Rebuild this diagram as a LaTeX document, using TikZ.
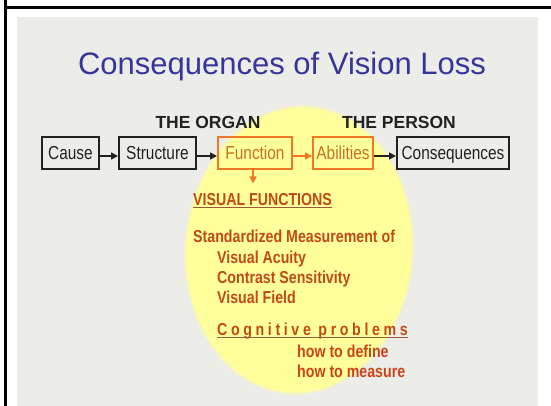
\documentclass[tikz,border=0pt]{standalone}
\usepackage{fontspec}
\setmainfont{Liberation Sans}
\newfontfamily\narrowfont[FakeStretch=0.82]{Liberation Sans}
\usetikzlibrary{arrows.meta}
\definecolor{slidebg}{HTML}{ECECE9}
\definecolor{titleblue}{HTML}{36369A}
\definecolor{ellyellow}{HTML}{FFFF9C}
\definecolor{boxorange}{HTML}{F07828}
\definecolor{orangetext}{HTML}{C8702A}
\definecolor{redbrown}{HTML}{C04A18}
\definecolor{howred}{HTML}{CC4418}
\definecolor{ulbrown}{HTML}{9A5A3A}
\definecolor{boxblack}{HTML}{222222}
\tikzset{
  blackbox/.style={draw=boxblack, line width=2pt, text=boxblack,
    minimum height=32pt, inner sep=0pt, text height=13.5pt, text depth=0pt,
    font=\narrowfont\fontsize{18.8}{20}\selectfont},
  orangebox/.style={blackbox, draw=boxorange, text=orangetext},
  headtext/.style={font=\bfseries\fontsize{17.5}{20}\selectfont, text=boxblack, inner sep=0pt, anchor=base},
  bodytext/.style={font=\narrowfont\bfseries\fontsize{17.3}{20}\selectfont, text=redbrown, inner sep=0pt, anchor=base west},
  blackarrow/.style={draw=boxblack, line width=1.6pt, -{Triangle[length=7pt,width=7pt]}},
  orangearrow/.style={draw=boxorange, line width=1.6pt, -{Triangle[length=7pt,width=7pt]}},
  ulline/.style={draw=ulbrown, line width=1pt},
}
\begin{document}
\begin{tikzpicture}[x=1pt,y=-1pt]
\useasboundingbox (0,0) rectangle (551,406);
\fill[white] (0,0) rectangle (551,406);
% slide background
\fill[slidebg] (17,17) rectangle (538,406);
% frame lines
\draw[black, line width=2.7pt] (5.3,0) -- (5.3,406);
\draw[black, line width=2.7pt] (4,7.3) -- (551,7.3);
% yellow ellipse with soft edge
\begin{scope}[shift={(299,250)}, rotate=-4]
\fill[ellyellow, opacity=0.35] (0,0) ellipse [x radius=115, y radius=145];
\fill[ellyellow, opacity=0.6] (0,0) ellipse [x radius=113.5, y radius=143.5];
\fill[ellyellow] (0,0) ellipse [x radius=112, y radius=142];
\end{scope}
% title
\node[font=\fontsize{31}{34}\selectfont, text=titleblue, inner sep=0pt, anchor=base] (title) at (282,75) {Consequences of Vision Loss};
% headings
\node[headtext] (organ) at (208,129) {THE ORGAN};
\node[headtext] (person) at (399,129) {THE PERSON};
% chain boxes
\node[blackbox, minimum width=57pt] (cause) at (70.5,153) {Cause};
\node[blackbox, minimum width=77pt] (structure) at (157.5,153) {Structure};
\node[orangebox, minimum width=74pt] (function) at (255,153) {Function};
\node[orangebox, minimum width=60pt] (abilities) at (343,153) {Abilities};
\node[blackbox, minimum width=112pt] (consequences) at (453,153) {Consequences};
% connectors
\draw[blackarrow] ([yshift=-3pt]cause.east) -- ([yshift=-3pt]structure.west);
\draw[blackarrow] ([yshift=-3pt]structure.east) -- ([yshift=-3pt]function.west);
\draw[orangearrow] ([yshift=-3pt]function.east) -- ([yshift=-3pt]abilities.west);
\draw[blackarrow] ([yshift=-3pt]abilities.east) -- ([yshift=-3pt]consequences.west);
\coordinate (vfarrow) at (253,183.5);
\draw[orangearrow] ([xshift=-2pt]function.south) -- (vfarrow);
% body text
\node[bodytext] (vf) at (193,205) {VISUAL FUNCTIONS};
\draw[ulline] ([yshift=-2.5pt]vf.base west) -- ([yshift=-2.5pt]vf.base east);
\node[bodytext] (std) at (193,242) {Standardized Measurement of};
\node[bodytext] (acuity) at (217,263) {Visual Acuity};
\node[bodytext] (contrast) at (217,283) {Contrast Sensitivity};
\node[bodytext] (field) at (217,303) {Visual Field};
\node[bodytext] (cog) at (217,335) {\addfontfeature{LetterSpace=21}Cognitive problems};
\draw[ulline] ([yshift=-2.5pt]cog.base west) -- ([yshift=-2.5pt]cog.base east);
\node[bodytext, text=howred] (define) at (297,357) {how to define};
\node[bodytext, text=howred] (measure) at (297,377) {how to measure};
\end{tikzpicture}
\end{document}
